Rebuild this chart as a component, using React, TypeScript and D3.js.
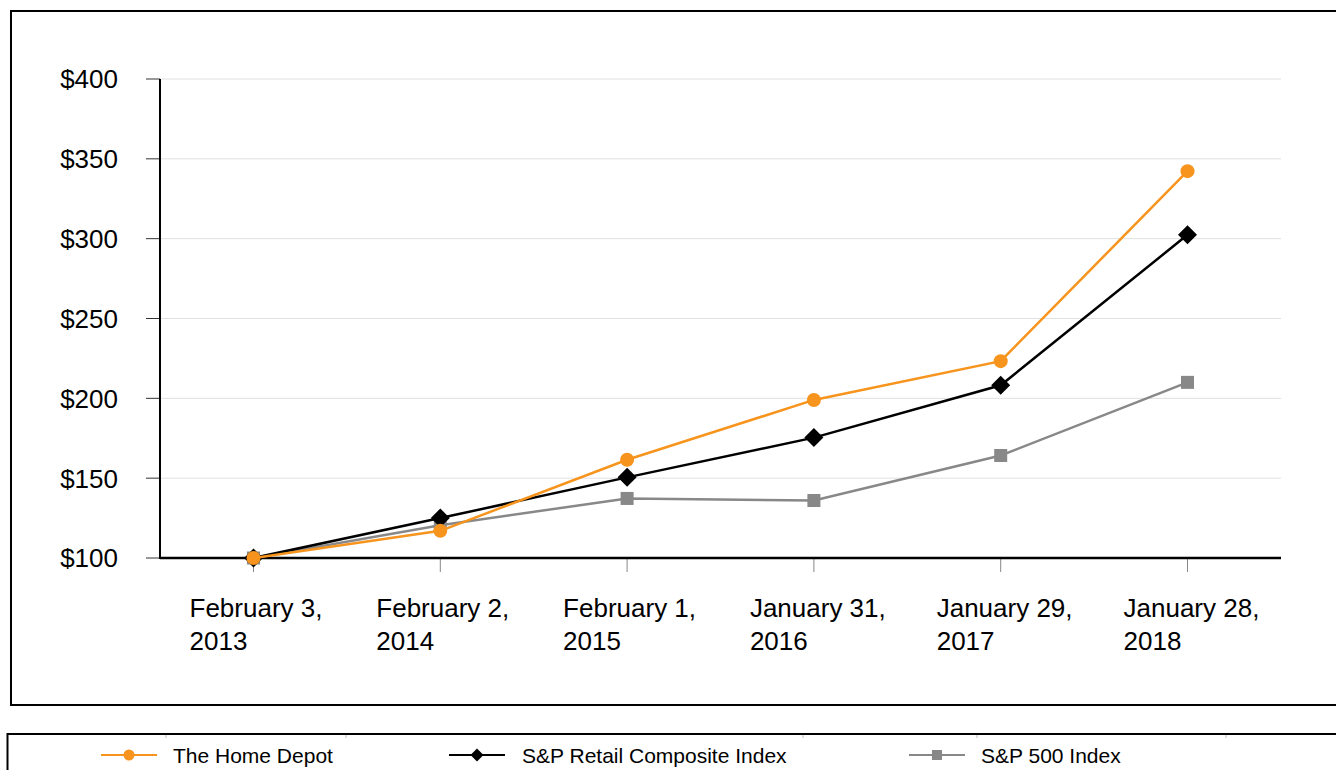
import React from "react";
import * as d3 from "d3";

const categories = [
  ["February 3,", "2013"],
  ["February 2,", "2014"],
  ["February 1,", "2015"],
  ["January 31,", "2016"],
  ["January 29,", "2017"],
  ["January 28,", "2018"],
];
const homeDepot = [100, 117, 161.5, 199, 223.3, 342.3];
const retail = [100, 125, 150.5, 175.4, 208.2, 302.4];
const sp500 = [100, 120.5, 137.3, 136, 164.2, 210];
const yTicks = [100, 150, 200, 250, 300, 350, 400];
const seriesNames = ["The Home Depot", "S&P Retail Composite Index", "S&P 500 Index"];

const ORANGE = "#F7941D";
const GRAY = "#888888";
const FONT = "'Liberation Sans', Arial, sans-serif";

export default function App() {
  const W = 1336, H = 770;
  const x = d3.scalePoint<number>().domain(d3.range(categories.length)).range([253.5, 1187.5]);
  const y = d3.scaleLinear().domain([100, 400]).range([558, 79]);
  const left = 160, right = 1281;
  const line = d3.line<number>().x((_, i) => x(i)!).y((d) => y(d));

  const diamond = (cx: number, cy: number, r: number) =>
    `M${cx},${cy - r}L${cx + r},${cy}L${cx},${cy + r}L${cx - r},${cy}Z`;

  const legendItems = [
    { name: seriesNames[0], x0: 101, tx: 173, kind: "circle", color: ORANGE },
    { name: seriesNames[1], x0: 449, tx: 522, kind: "diamond", color: "#000" },
    { name: seriesNames[2], x0: 909, tx: 981, kind: "square", color: GRAY },
  ];
  const ly = 755;

  return (
    <svg width={W} height={H} style={{ position: "absolute", left: 0, top: 0, background: "#fff" }} fontFamily={FONT}>
      <rect x={0} y={0} width={W} height={H} fill="#fff" />
      {/* outer frame */}
      <rect x={11} y={11} width={W + 20} height={694} fill="none" stroke="#000" strokeWidth={2} />
      {/* legend frame */}
      <rect x={7.5} y={734} width={W + 20} height={80} fill="none" stroke="#000" strokeWidth={2} />
      {[166, 346, 803, 977, 1226].map((lx) => (
        <line key={lx} x1={lx} x2={lx} y1={735} y2={738} stroke="#bbb" strokeWidth={1} />
      ))}

      {/* grid */}
      {yTicks.slice(1).map((t) => (
        <line key={t} x1={left} x2={right} y1={y(t)} y2={y(t)} stroke="#e0e0e0" strokeWidth={1} />
      ))}
      {/* y ticks + labels */}
      {yTicks.map((t) => (
        <g key={t}>
          <line x1={146} x2={left} y1={y(t)} y2={y(t)} stroke="#333" strokeWidth={1} />
          <text x={118} y={y(t)} dy="0.36em" textAnchor="end" fontSize={26} fill="#000">
            {"$" + t}
          </text>
        </g>
      ))}
      {/* x ticks + labels */}
      {categories.map((c, i) => (
        <g key={i}>
          <line x1={x(i)} x2={x(i)} y1={559} y2={572} stroke="#888" strokeWidth={1} />
          <text x={x(i)! - 64} y={617} fontSize={26} fill="#000">{c[0]}</text>
          <text x={x(i)! - 64} y={650} fontSize={26} fill="#000">{c[1]}</text>
        </g>
      ))}
      {/* axes */}
      <line x1={left} x2={left} y1={79} y2={559} stroke="#000" strokeWidth={2} />
      <line x1={left} x2={right} y1={558} y2={558} stroke="#000" strokeWidth={2.5} />

      {/* series */}
      <path d={line(sp500)!} fill="none" stroke={GRAY} strokeWidth={2.5} />
      {sp500.map((v, i) => (
        <rect key={i} x={x(i)! - 6.5} y={y(v) - 6.5} width={13} height={13} fill={GRAY} />
      ))}
      <path d={line(retail)!} fill="none" stroke="#000" strokeWidth={2.5} />
      {retail.map((v, i) => (
        <path key={i} d={diamond(x(i)!, y(v), 9.5)} fill="#000" />
      ))}
      <path d={line(homeDepot)!} fill="none" stroke={ORANGE} strokeWidth={2.5} />
      {homeDepot.map((v, i) => (
        <circle key={i} cx={x(i)} cy={y(v)} r={7} fill={ORANGE} />
      ))}

      {/* legend */}
      {legendItems.map((it) => (
        <g key={it.name}>
          <line x1={it.x0} x2={it.x0 + 56} y1={ly} y2={ly} stroke={it.color} strokeWidth={2} />
          {it.kind === "circle" && <circle cx={it.x0 + 28} cy={ly} r={5.5} fill={it.color} />}
          {it.kind === "diamond" && <path d={diamond(it.x0 + 28, ly, 6.5)} fill={it.color} />}
          {it.kind === "square" && <rect x={it.x0 + 28 - 5} y={ly - 5} width={10} height={10} fill={it.color} />}
          <text x={it.tx} y={ly} dy="0.36em" fontSize={21} fill="#000">{it.name}</text>
        </g>
      ))}
    </svg>
  );
}
